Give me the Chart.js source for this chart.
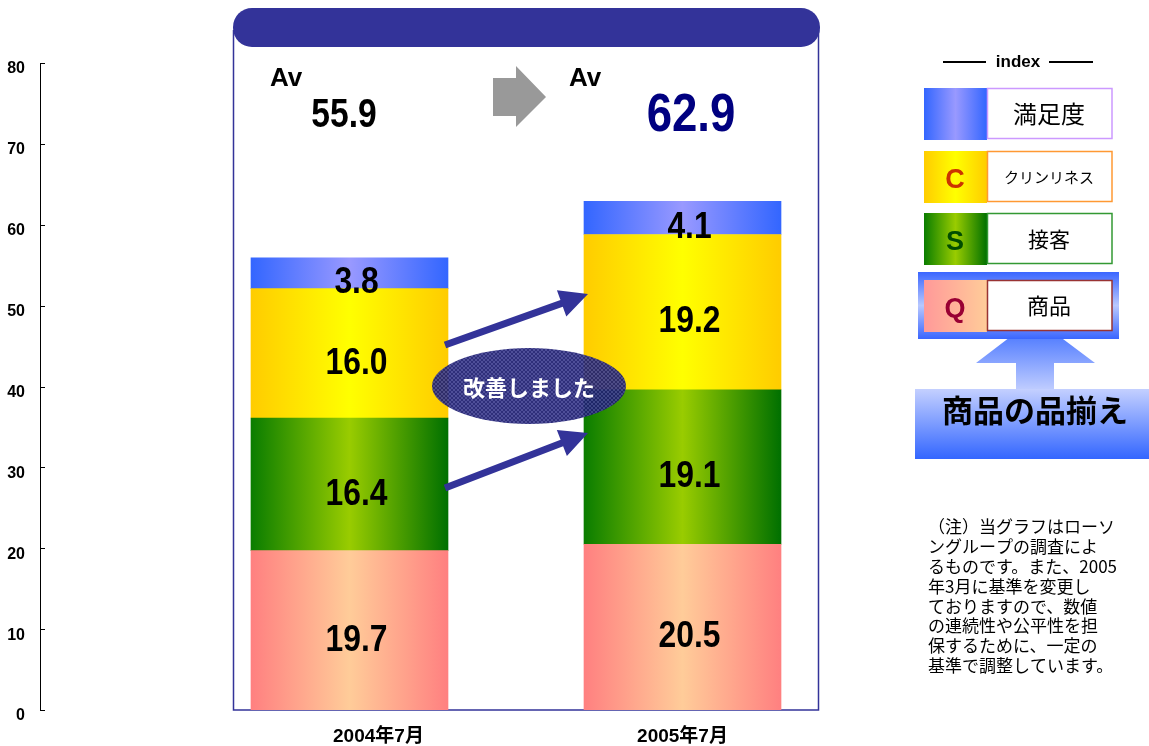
<!DOCTYPE html>
<html lang="ja">
<head>
<meta charset="utf-8">
<title>満足度の推移</title>
<script src="https://cdn.jsdelivr.net/npm/chart.js@4.4.1/dist/chart.umd.min.js"></script>
<style>
  html, body { margin: 0; padding: 0; background: #fff; }
  #wrap { width: 1149px; height: 746px; }
</style>
</head>
<body>
<div id="wrap"><canvas id="satisfactionChart" width="1149" height="746"></canvas></div>
<script>
// data
const categories = ['2004年7月', '2005年7月'];
const seriesNames = ['Q', 'S', 'C', '満足度'];
const qValues = [19.7, 20.5];
const sValues = [16.4, 19.1];
const cValues = [16.0, 19.2];
const satisfactionValues = [3.8, 4.1];
const averages = ['55.9', '62.9'];
const yTicks = [0, 10, 20, 30, 40, 50, 60, 70, 80];
const noteLines = [
    '（注）当グラフはローソ',
    'ングループの調査によ',
    'るものです。また、2005',
    '年3月に基準を変更し',
    'ておりますので、数値',
    'の連続性や公平性を担',
    '保するために、一定の',
    '基準で調整しています。'
];

const BAR_W = 197;
const NAVY = '#333399';
const LATIN = '"Liberation Sans", Arial, sans-serif';
const CJK = '"Noto Sans CJK JP", "Noto Sans", sans-serif';

// horizontal gradient stops for each series
const gradients = {
    Q: ['#ff8080', '#ffcc99', '#ff8080'],
    S: ['#0a7d00', '#99cc00', '#007000'],
    C: ['#ffcc00', '#ffff00', '#ffcc00'],
    '満足度': ['#3366ff', '#9999ff', '#3366ff']
};

function barGradient(stops) {
    return function(context) {
        const chart = context.chart;
        const xScale = chart.scales.x;
        if (!xScale || context.dataIndex === undefined) return stops[1];
        const cx = xScale.getPixelForValue(context.dataIndex);
        if (!isFinite(cx)) return stops[1];
        const g = chart.ctx.createLinearGradient(cx - BAR_W / 2, 0, cx + BAR_W / 2, 0);
        stops.forEach((c, i) => g.addColorStop(i / (stops.length - 1), c));
        return g;
    };
}

function hGrad(ctx, x0, x1, stops) {
    const g = ctx.createLinearGradient(x0, 0, x1, 0);
    stops.forEach((c, i) => g.addColorStop(i / (stops.length - 1), c));
    return g;
}
function vGrad(ctx, y0, y1, stops) {
    const g = ctx.createLinearGradient(0, y0, 0, y1);
    stops.forEach((c, i) => g.addColorStop(i / (stops.length - 1), c));
    return g;
}

// bold text squeezed horizontally, like Arial Narrow
function narrowText(ctx, text, x, y, size, squeeze) {
    ctx.save();
    ctx.translate(x, y);
    ctx.scale(squeeze, 1);
    ctx.font = 'bold ' + size + 'px ' + LATIN;
    ctx.fillText(text, 0, 0);
    ctx.restore();
}

function drawArrow(ctx, x0, y0, x1, y1) {
    const dx = x1 - x0, dy = y1 - y0;
    const len = Math.hypot(dx, dy);
    const ux = dx / len, uy = dy / len;
    const nx = -uy, ny = ux;
    const headLen = 28, headHalf = 14, shaftHalf = 3.5;
    const bx = x1 - ux * headLen, by = y1 - uy * headLen;
    ctx.beginPath();
    ctx.moveTo(x0 + nx * shaftHalf, y0 + ny * shaftHalf);
    ctx.lineTo(bx + nx * shaftHalf, by + ny * shaftHalf);
    ctx.lineTo(bx + nx * headHalf, by + ny * headHalf);
    ctx.lineTo(x1, y1);
    ctx.lineTo(bx - nx * headHalf, by - ny * headHalf);
    ctx.lineTo(bx - nx * shaftHalf, by - ny * shaftHalf);
    ctx.lineTo(x0 - nx * shaftHalf, y0 - ny * shaftHalf);
    ctx.closePath();
    ctx.fill();
}

function hatchPattern(ctx) {
    const c = document.createElement('canvas');
    c.width = 4; c.height = 4;
    const p = c.getContext('2d');
    p.fillStyle = 'rgb(32, 32, 112)';
    p.fillRect(0, 0, 4, 4);
    p.fillStyle = 'rgb(66, 66, 146)';
    for (let i = 0; i < 4; i++) {
        p.fillRect(i, i, 1, 1);
        p.fillRect(3 - i, i, 1, 1);
    }
    return ctx.createPattern(c, 'repeat');
}

// frame with the navy header behind the bars
const framePlugin = {
    id: 'frame',
    beforeDatasetsDraw(chart) {
        const ctx = chart.ctx;
        ctx.save();
        ctx.strokeStyle = NAVY;
        ctx.lineWidth = 1.5;
        ctx.beginPath();
        ctx.moveTo(233.5, 30);
        ctx.lineTo(233.5, 710);
        ctx.lineTo(818.5, 710);
        ctx.lineTo(818.5, 30);
        ctx.stroke();
        ctx.fillStyle = NAVY;
        ctx.beginPath();
        ctx.roundRect(233, 8, 587, 39, 19);
        ctx.fill();
        ctx.restore();
    }
};

// small tick marks on the inside of the value axis
const innerTicksPlugin = {
    id: 'innerTicks',
    afterDraw(chart) {
        const ctx = chart.ctx, y = chart.scales.y;
        ctx.save();
        ctx.strokeStyle = '#000';
        ctx.lineWidth = 1;
        y.ticks.forEach(t => {
            const py = Math.round(y.getPixelForValue(t.value)) + 0.5;
            ctx.beginPath();
            ctx.moveTo(y.right, py);
            ctx.lineTo(y.right + 5, py);
            ctx.stroke();
        });
        ctx.restore();
    }
};

const valueLabelsPlugin = {
    id: 'valueLabels',
    afterDatasetsDraw(chart) {
        const ctx = chart.ctx;
        ctx.save();
        ctx.fillStyle = '#000';
        ctx.textAlign = 'center';
        ctx.textBaseline = 'middle';
        chart.data.datasets.forEach((ds, di) => {
            chart.getDatasetMeta(di).data.forEach((bar, i) => {
                const v = ds.data[i].y;
                narrowText(ctx, v.toFixed(1), bar.x + 7, (bar.y + bar.base) / 2 + 10, 37, 0.86);
            });
        });
        ctx.restore();
    }
};

const annotationsPlugin = {
    id: 'annotations',
    afterDatasetsDraw(chart) {
        const ctx = chart.ctx;
        ctx.save();

        // improvement arrows between the bars
        ctx.fillStyle = NAVY;
        drawArrow(ctx, 445, 345, 588, 294);
        drawArrow(ctx, 445, 488, 588, 433);

        // oval badge
        ctx.save();
        ctx.globalAlpha = 0.93;
        ctx.fillStyle = hatchPattern(ctx);
        ctx.beginPath();
        ctx.ellipse(529, 386, 97, 38, 0, 0, Math.PI * 2);
        ctx.fill();
        ctx.restore();
        ctx.fillStyle = '#fff';
        ctx.font = 'bold 22px ' + CJK;
        ctx.textAlign = 'center';
        ctx.textBaseline = 'middle';
        ctx.fillText('改善しました', 529, 388);

        // averages
        ctx.fillStyle = '#000';
        ctx.textAlign = 'left';
        ctx.textBaseline = 'alphabetic';
        ctx.font = 'bold 26px ' + LATIN;
        ctx.fillText('Av', 270, 86);
        ctx.fillText('Av', 569, 86);
        ctx.textAlign = 'center';
        narrowText(ctx, averages[0], 344, 127, 41, 0.82);
        ctx.fillStyle = '#000080';
        narrowText(ctx, averages[1], 691, 131, 53, 0.86);

        // grey block arrow
        ctx.fillStyle = '#999999';
        ctx.beginPath();
        ctx.moveTo(493, 78); ctx.lineTo(516, 78); ctx.lineTo(516, 66);
        ctx.lineTo(546, 97); ctx.lineTo(516, 127); ctx.lineTo(516, 116);
        ctx.lineTo(493, 116);
        ctx.closePath();
        ctx.fill();

        // legend title
        ctx.fillStyle = '#000';
        ctx.font = 'bold 17px ' + LATIN;
        ctx.textBaseline = 'middle';
        ctx.fillText('index', 1018, 62);
        ctx.fillRect(943, 61, 43, 2);
        ctx.fillRect(1049, 61, 44, 2);

        // up arrow into the Q row
        ctx.fillStyle = vGrad(ctx, 320, 392, ['#3366ff', '#c4d0ff']);
        ctx.beginPath();
        ctx.moveTo(1035, 318); ctx.lineTo(1095, 363); ctx.lineTo(1054, 363);
        ctx.lineTo(1054, 392); ctx.lineTo(1016, 392); ctx.lineTo(1016, 363);
        ctx.lineTo(976, 363);
        ctx.closePath();
        ctx.fill();

        // highlighted frame for Q
        ctx.fillStyle = vGrad(ctx, 272, 339, ['#3a66ff', '#b8c8ff', '#3a66ff']);
        ctx.fillRect(918, 272, 201, 67);

        const rows = [
            {y: 88, h: 52, stops: gradients['満足度'], letter: '', letterColor: '', text: '満足度', textSize: 24, border: '#cc99ff'},
            {y: 151, h: 52, stops: gradients.C, letter: 'C', letterColor: '#cc3300', text: 'クリンリネス', textSize: 15, border: '#ff9933'},
            {y: 213, h: 52, stops: gradients.S, letter: 'S', letterColor: '#004d00', text: '接客', textSize: 21, border: '#339933'},
            {y: 280, h: 52, stops: ['#ff9999', '#ffcc99'], letter: 'Q', letterColor: '#990033', text: '商品', textSize: 22, border: '#993333'}
        ];
        rows.forEach(r => {
            ctx.fillStyle = hGrad(ctx, 924, 987, r.stops);
            ctx.fillRect(924, r.y, 63, r.h);
            ctx.fillStyle = '#fff';
            ctx.fillRect(987, r.y, 125, r.h - 1);
            ctx.strokeStyle = r.border;
            ctx.lineWidth = 1.5;
            ctx.strokeRect(987.5, r.y + 0.5, 124.5, r.h - 2);
            if (r.letter) {
                ctx.fillStyle = r.letterColor;
                ctx.font = 'bold 27px ' + LATIN;
                ctx.textAlign = 'center';
                ctx.textBaseline = 'middle';
                ctx.fillText(r.letter, 955, r.y + r.h / 2 + 4);
            }
            ctx.fillStyle = '#000';
            ctx.font = r.textSize + 'px ' + CJK;
            ctx.textAlign = 'center';
            ctx.textBaseline = 'middle';
            ctx.fillText(r.text, 1049, r.y + r.h / 2);
        });

        // 商品の品揃え box
        ctx.fillStyle = vGrad(ctx, 389, 459, ['#c4d0ff', '#3366ff']);
        ctx.fillRect(915, 389, 234, 70);
        ctx.fillStyle = '#000';
        ctx.font = 'bold 31px ' + CJK;
        ctx.textAlign = 'center';
        ctx.textBaseline = 'middle';
        ctx.fillText('商品の品揃え', 1035, 410);

        // note
        ctx.font = '17px ' + CJK;
        ctx.textAlign = 'left';
        noteLines.forEach((line, i) => {
            ctx.fillText(line, 928, 527 + i * 19.8);
        });

        ctx.restore();
    }
};

const ctx = document.getElementById('satisfactionChart').getContext('2d');

const datasets = [qValues, sValues, cValues, satisfactionValues].map((values, i) => ({
    label: seriesNames[i],
    data: values.map((v, idx) => ({x: idx, y: v})),
    backgroundColor: barGradient(gradients[seriesNames[i]]),
    borderWidth: 0,
    barThickness: BAR_W
}));

new Chart(ctx, {
    type: 'bar',
    data: { datasets: datasets },
    options: {
        responsive: false,
        animation: false,
        layout: { padding: { top: 63, right: 9, left: 0, bottom: 0 } },
        plugins: {
            legend: { display: false },
            title: { display: false },
            tooltip: { enabled: false }
        },
        scales: {
            x: {
                type: 'linear',
                stacked: true,
                offset: false,
                min: -0.92943,
                max: 2.37387,
                grid: { display: false, drawTicks: false },
                border: { display: false },
                afterBuildTicks: function(scale) {
                    // 2004 label sits a little right of its bar in the original
                    scale.ticks = categories.map((c, i) => ({ value: i + (i === 0 ? 0.087 : 0) }));
                },
                afterFit: function(scale) { scale.height = 36; },
                ticks: {
                    autoSkip: false,
                    maxRotation: 0,
                    padding: 15,
                    color: '#000',
                    font: { family: '"Liberation Sans", "Noto Sans CJK JP", sans-serif', size: 19, weight: 'bold' },
                    callback: function(value, index) { return categories[index]; }
                }
            },
            y: {
                stacked: true,
                min: 0,
                max: 80,
                grid: { display: false, drawTicks: false },
                border: { display: true, color: '#000', width: 1 },
                afterBuildTicks: function(scale) {
                    scale.ticks = yTicks.map(v => ({ value: v }));
                },
                afterFit: function(scale) { scale.width = 40; },
                ticks: {
                    padding: 15,
                    labelOffset: 6,
                    color: '#000',
                    font: { family: LATIN, size: 16, weight: 'bold' }
                }
            }
        }
    },
    plugins: [framePlugin, valueLabelsPlugin, annotationsPlugin, innerTicksPlugin]
});
</script>
</body>
</html>
